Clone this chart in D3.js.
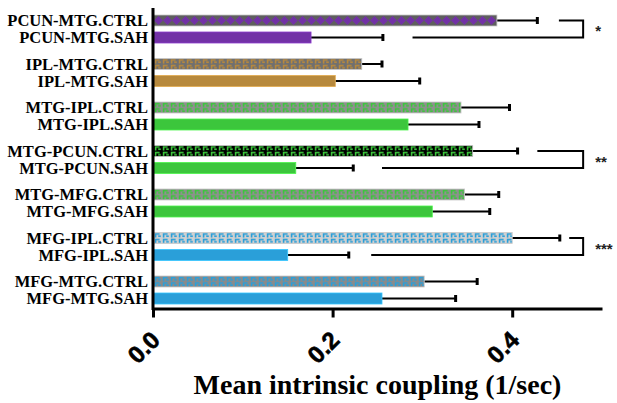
<!DOCTYPE html>
<html><head><meta charset="utf-8">
<script src="https://cdn.jsdelivr.net/npm/d3@7"></script>
<style>body{margin:0;background:#fff}svg{display:block}</style>
</head><body><svg id="c" width="617" height="403"></svg>
<script>
// ---- data ----
const connections = ["PCUN-MTG","IPL-MTG","MTG-IPL","MTG-PCUN","MTG-MFG","MFG-IPL","MFG-MTG"];
const groups = ["CTRL","SAH"];
const ctrlMean = [0.383,0.2325,0.343,0.356,0.347,0.400,0.302];
const ctrlErr  = [0.045,0.0225,0.054,0.050,0.038,0.053,0.059];
const sahMean  = [0.176,0.203,0.284,0.159,0.311,0.150,0.255];
const sahErr   = [0.080,0.094,0.079,0.064,0.064,0.068,0.082];
const xTicks = [0.0,0.2,0.4];
const xTitle = "Mean intrinsic coupling (1/sec)";
const sigPairs = ["PCUN-MTG","MTG-PCUN","MFG-IPL"];
const sigLabels = ["*","**","***"];
const sigCtrlStart = [0.452,0.428,0.4635];
const sigSahStart  = [0.289,0.255,0.243];
const sigRight = 0.479;

// ---- styles ----
const sahColor = ["#7231a6","#b7893d","#3cc63c","#3cc63c","#3cc63c","#2a9fd9","#2a9fd9"];
const ctrlBg   = ["#5e5e5e","#707070","#8f8f8f","#000000","#8f8f8f","#d0d0d0","#8a8a8a"];
const ctrlKind = ["diamond","key","key","key","key","key","key"];

const svg = d3.select("#c");
const defs = svg.append("defs");

const x = d3.scaleLinear().domain([0,0.5]).range([153,602]);
const yG = d3.scaleBand().domain(connections).range([7.25,311.75]).padding(0);
const yI = d3.scaleBand().domain(groups).range([0,yG.bandwidth()]).paddingInner(0.353).paddingOuter(0.456);
const bw = yI.bandwidth();

connections.forEach((c,i)=>{
  const by = yG(c)+yI("CTRL");
  const p = defs.append("pattern").attr("id","pat"+i)
    .attr("patternUnits","userSpaceOnUse").attr("x",x(0)+1);
  if (ctrlKind[i]==="diamond"){
    p.attr("width",9).attr("height",bw).attr("y",by);
    p.append("rect").attr("width",9).attr("height",bw).attr("fill",ctrlBg[i]);
    p.append("path").attr("d",`M4.5,${bw/2-4.4} L8.9,${bw/2} L4.5,${bw/2+4.4} L0.1,${bw/2} Z`).attr("fill",sahColor[i]);
  } else {
    p.attr("width",8).attr("height",bw/2).attr("y",by);
    p.append("rect").attr("width",8).attr("height",bw/2).attr("fill",ctrlBg[i]);
    p.append("path").attr("d","M0.8,0.8 h4.8 v1.6 h-3.2 v2.6 h-1.6 Z").attr("fill",sahColor[i]);
    p.append("path").attr("d","M4.2,3 h2.6 v1.6 h-2.6 Z").attr("fill",sahColor[i]);
  }
});

const rows = [];
connections.forEach((c,i)=>{
  rows.push({c,i,g:"CTRL",m:ctrlMean[i],e:ctrlErr[i],fill:`url(#pat${i})`});
  rows.push({c,i,g:"SAH",m:sahMean[i],e:sahErr[i],fill:sahColor[i]});
});
const yPos = d=> yG(d.c)+yI(d.g);

// error bars (behind bars)
const eb = svg.append("g").attr("stroke","#000");
eb.selectAll("line.e").data(rows).join("line")
  .attr("x1",d=>x(d.m)).attr("x2",d=>x(d.m+d.e))
  .attr("y1",d=>yPos(d)+bw/2).attr("y2",d=>yPos(d)+bw/2).attr("stroke-width",2);
eb.selectAll("line.c").data(rows).join("line").attr("class","c")
  .attr("x1",d=>x(d.m+d.e)).attr("x2",d=>x(d.m+d.e))
  .attr("y1",d=>yPos(d)+bw/2-3.5).attr("y2",d=>yPos(d)+bw/2+3.5).attr("stroke-width",3);

// bars
svg.append("g").selectAll("rect").data(rows).join("rect")
  .attr("x",x(0)).attr("y",yPos).attr("height",bw)
  .attr("width",d=>x(d.m)-x(0)).attr("fill",d=>d.fill)
  .attr("stroke",d=>d.g==="SAH"? d3.color(sahColor[d.i]).brighter(0.6):"#c8c8c8")
  .attr("stroke-width",0.8);

// labels
svg.append("g").selectAll("text").data(rows).join("text")
  .attr("x",148).attr("y",d=>yPos(d)+bw/2).attr("dy","0.36em")
  .attr("text-anchor","end")
  .style("font-family","'Liberation Serif','Times New Roman',serif")
  .style("font-weight","bold").style("font-size","16.5px")
  .text(d=>`${d.c}.${d.g}`);

// significance brackets
const sg = svg.append("g");
sigPairs.forEach((c,k)=>{
  const yc = yG(c)+yI("CTRL")+bw/2, ys = yG(c)+yI("SAH")+bw/2;
  sg.append("path")
    .attr("d",`M${x(sigCtrlStart[k])},${yc} H${x(sigRight)} V${ys} H${x(sigSahStart[k])}`)
    .attr("fill","none").attr("stroke","#000").attr("stroke-width",2);
  sg.append("text").attr("x",x(sigRight)+12).attr("y",(yc+ys)/2+7)
    .style("font-family","'Liberation Sans',Arial,sans-serif").style("font-weight","bold")
    .style("font-size","15px").attr("fill","#222").text(sigLabels[k]);
});

// left axis line
svg.append("line").attr("x1",x(0)).attr("x2",x(0)).attr("y1",8).attr("y2",310)
  .attr("stroke","#000").attr("stroke-width",3);

// bottom axis
const ax = svg.append("g").attr("transform","translate(0,308.5)")
  .call(d3.axisBottom(x).tickValues(xTicks).tickFormat(d3.format(".1f")).tickSize(9).tickSizeOuter(0));
ax.select(".domain").attr("stroke","#000").attr("stroke-width",3);
ax.selectAll(".tick line").attr("stroke","#000").attr("stroke-width",3);
ax.selectAll(".tick text").attr("y",0).attr("x",0).attr("dy","0.35em")
  .attr("transform","translate(2,27) rotate(-45)").attr("text-anchor","end")
  .attr("fill","#000").attr("stroke","#000").attr("stroke-width",0.6)
  .style("font-family","'Liberation Sans',Arial,sans-serif").style("font-weight","bold").style("font-size","24px");

svg.append("text").attr("x",(x(0)+x(0.5))/2).attr("y",394).attr("text-anchor","middle")
  .style("font-family","'Liberation Serif','Times New Roman',serif").style("font-weight","bold")
  .style("font-size","28px").text(xTitle);
</script></body></html>
